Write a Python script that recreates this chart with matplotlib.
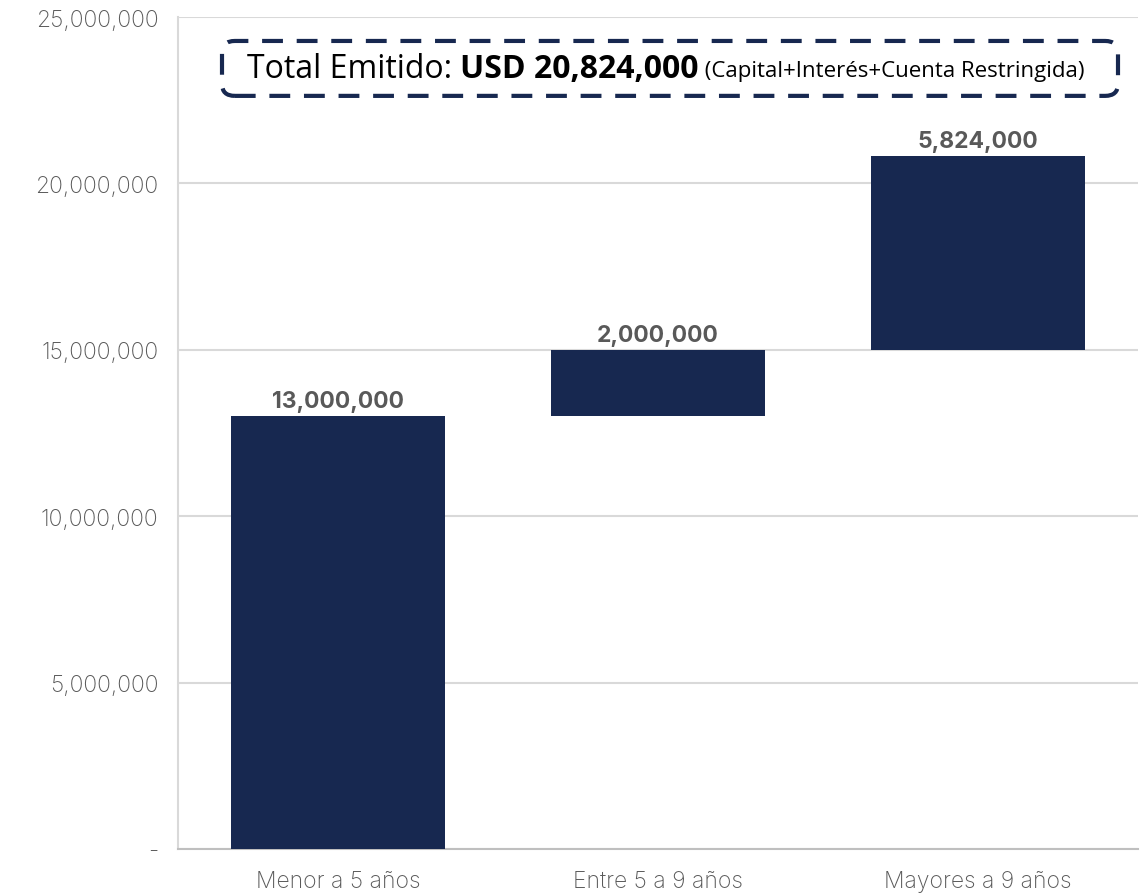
import matplotlib
matplotlib.use("Agg")
import matplotlib.pyplot as plt
import numpy as np
from matplotlib.patches import FancyBboxPatch
from matplotlib.ticker import FuncFormatter

categories = ["Menor a 5 años", "Entre 5 a 9 años", "Mayores a 9 años"]
values = [13000000, 2000000, 5824000]
total_label = "USD 20,824,000"
title_pre = "Total Emitido: "
title_post = " (Capital+Interés+Cuenta Restringida)"

NAVY = "#172850"
GREY = "#595959"
GRID = "#D9D9D9"

bottoms = np.concatenate([[0], np.cumsum(values)[:-1]])

fig = plt.figure(figsize=(11.4, 8.95), dpi=100)
ax = fig.add_axes([178/1140, 45/895, 960/1140, 832/895])

x = np.arange(len(categories))
bars = ax.bar(x, values, bottom=bottoms, width=0.67, color=NAVY, zorder=3)

for xi, v, b in zip(x, values, bottoms):
    ax.text(xi, b + v + 120000, f"{v:,.0f}", ha="center", va="bottom",
            fontsize=16.5, fontweight="bold", color=GREY, family="Inter", zorder=4)

ax.set_xlim(-0.5, 2.5)
ax.set_ylim(0, 25000000)
ax.set_yticks(np.arange(0, 25000001, 5000000))
ax.yaxis.set_major_formatter(FuncFormatter(lambda v, p: "-" if v == 0 else f"{v:,.0f}"))
ax.set_xticks(x)
ax.set_xticklabels(categories)
for lab in ax.get_yticklabels() + ax.get_xticklabels():
    lab.set_family("Inter")
    lab.set_fontsize(16.5)
    lab.set_fontweight("light")
    lab.set_color(GREY)
ax.tick_params(axis="both", length=0)
ax.tick_params(axis="y", pad=14)
ax.tick_params(axis="x", pad=15)
ax.grid(axis="y", color=GRID, linewidth=1.5, zorder=0)
ax.set_axisbelow(True)
for s in ["top", "right"]:
    ax.spines[s].set_visible(False)
ax.spines["left"].set_color(GRID)
ax.spines["left"].set_linewidth(1.5)
ax.spines["bottom"].set_color("#BFBFBF")
ax.spines["bottom"].set_linewidth(1.5)

# Dashed rounded box
box = FancyBboxPatch((-0.3625, 22.63e6), 2.80, 1.65e6,
                     boxstyle="round,pad=0,rounding_size=0.04",
                     mutation_aspect=9e6,
                     fill=True, facecolor="white", edgecolor=NAVY,
                     linewidth=3, linestyle=(0, (5, 3.3)), zorder=5)
ax.add_patch(box)

ty = 23.45e6
fig.canvas.draw()
r = fig.canvas.get_renderer()
t1 = ax.text(-0.285, ty, title_pre, fontsize=23, family="Open Sans",
             color="black", va="center", ha="left", zorder=6)
bb = t1.get_window_extent(r)
x2 = ax.transData.inverted().transform((bb.x1, 0))[0]
t2 = ax.text(x2, ty, total_label, fontsize=23, family="Open Sans", fontweight="bold",
             color="black", va="center", ha="left", zorder=6)
bb = t2.get_window_extent(r)
x3 = ax.transData.inverted().transform((bb.x1, 0))[0]
t3 = ax.text(x3, ty - 0.05e6, title_post, fontsize=16, family="Open Sans",
             color="black", va="center", ha="left", zorder=6)

fig.savefig("out.png", dpi=100)
